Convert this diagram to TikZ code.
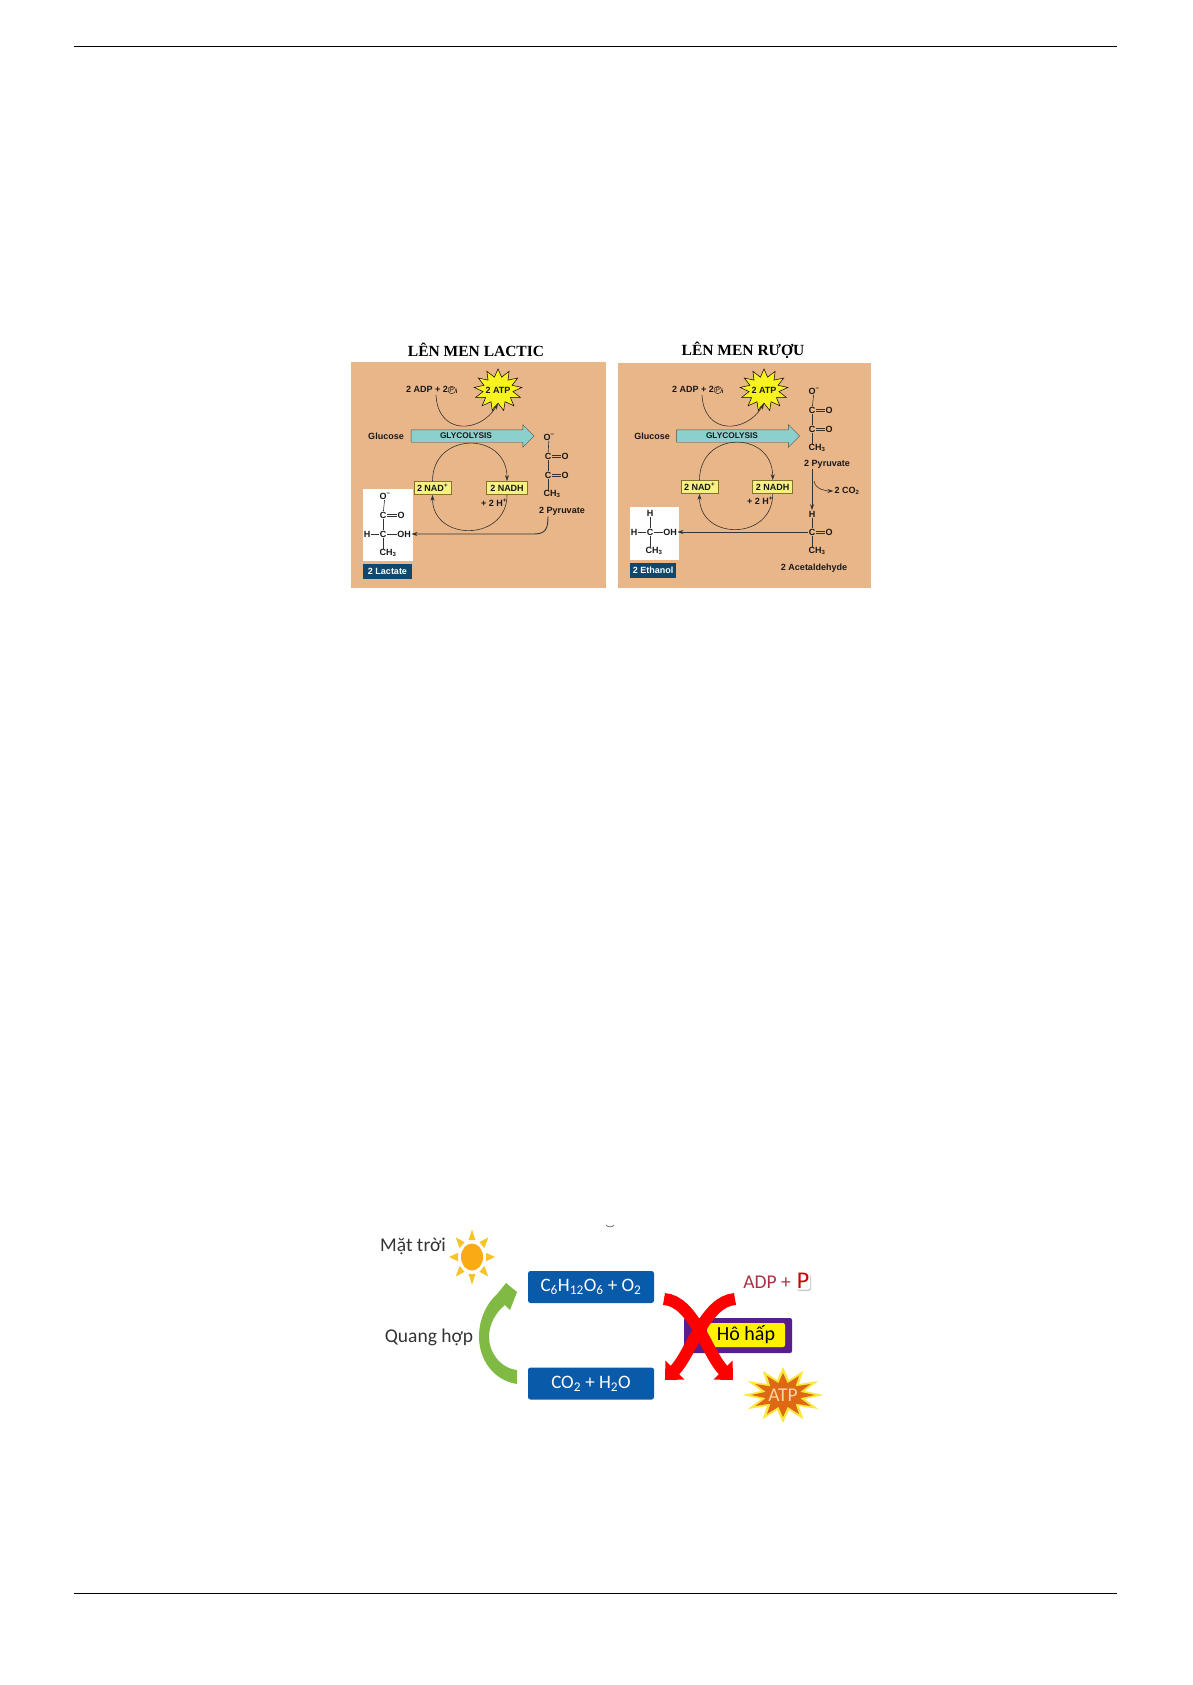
\documentclass[tikz,border=0pt]{standalone}
\usepackage{fontspec}
\setmainfont{Liberation Sans}
\newfontfamily\titlefont{Liberation Serif}
\newfontfamily\slidefont{Carlito}
\usepackage{tikz}
\usetikzlibrary{arrows.meta,shapes.geometric,shapes.arrows,shadows}
\definecolor{panelbg}{RGB}{233,182,137}
\definecolor{glyfill}{RGB}{140,208,205}
\definecolor{boxyellow}{RGB}{247,240,130}
\definecolor{boxedge}{RGB}{130,115,40}
\definecolor{starfill}{RGB}{248,242,30}
\definecolor{namebg}{RGB}{15,72,108}
\definecolor{slideblue}{RGB}{10,90,170}
\definecolor{leafgreen}{RGB}{128,186,68}
\definecolor{sunorange}{RGB}{249,170,20}
\definecolor{sunyellow}{RGB}{246,196,40}
\definecolor{breathpurple}{RGB}{88,30,140}
\definecolor{adpred}{RGB}{170,50,70}
\definecolor{burstorange}{RGB}{222,104,20}
\definecolor{burstyellow}{RGB}{250,230,60}
\definecolor{bursttext}{RGB}{248,214,170}
\newcommand{\pcirc}{\tikz[baseline=(pc.base)]\node[circle,draw,line width=.4pt,inner sep=.3pt,font=\fontsize{7}{7}\selectfont\mdseries] (pc) {P};}
\newcommand{\dblbond}[2]{\draw[bond] ([yshift=-1pt]#1.east) -- ([yshift=-1pt]#2.west); \draw[bond] ([yshift=1pt]#1.east) -- ([yshift=1pt]#2.west);}
\tikzset{
	small/.style={font=\fontsize{9}{10}\selectfont\bfseries,inner sep=1pt,text=black!90},
	atom/.style={small,inner sep=.5pt},
	bond/.style={black!80,line width=.6pt},
	arc/.style={black!80,line width=.6pt,-{Stealth[length=6pt,width=4pt]}},
	panel/.style={fill=panelbg,draw=none},
	whitebox/.style={fill=white,draw=none},
	redox/.style={small,fill=boxyellow,draw=boxedge,line width=.8pt,minimum height=13pt,inner sep=0pt},
	namebox/.style={small,fill=namebg,text=white,minimum height=15pt,inner sep=0pt},
	glyarrow/.style={single arrow,draw=black!70,fill=glyfill,minimum height=123pt,single arrow head extend=5pt,single arrow tip angle=90,inner sep=6pt},
	burst/.style={star,star points=13,star point ratio=1.6,draw=black,fill=starfill,line width=.5pt,minimum size=48pt,inner sep=0pt,yscale=.88,transform shape},
	heading/.style={font=\fontsize{15.5}{17}\selectfont\titlefont\bfseries,inner sep=0pt},
	slidetxt/.style={font=\fontsize{19.5}{22}\selectfont\slidefont,inner sep=0pt,text=black!80},
	slidebox/.style={font=\fontsize{19}{22}\selectfont\slidefont,fill=slideblue,text=white,rounded corners=2.5pt,minimum width=126pt,minimum height=32pt,inner sep=0pt},
	redarrow/.style={red,line width=12pt,-{Triangle[length=14pt,width=26pt]}},
}
\begin{document}
\begin{tikzpicture}[x=1pt,y=-1pt]
	\useasboundingbox (0,0) rectangle (1192,1685);
	\coordinate (topL) at (74,46);
	\coordinate (topR) at (1117,46);
	\coordinate (botL) at (74,1593);
	\coordinate (botR) at (1117,1593);
	\draw[line width=.8pt] (topL) -- (topR);
	\draw[line width=.8pt] (botL) -- (botR);

	\node[heading] (titleA) at (476,350) {LÊN MEN LACTIC};
	\node[heading] (titleB) at (743,350) {LÊN MEN RƯỢU};
	\fill[panel] (351,362) rectangle (606,588);
	\fill[panel] (618,363) rectangle (871,588);

	\node[small] (adpA) at (432,390) {2 ADP + 2\pcirc\textsubscript{i}};
	\node[burst] (starA) at (498,390) {};
	\node[small] (atpA) at (498,390) {2 ATP};
	\node[small] (glucA) at (386,436) {Glucose};
	\node[glyarrow] (glyA) at (469.5,436) {};
	\node[small,font=\fontsize{8.3}{10}\selectfont\bfseries] (glytxtA) at (466,436) {GLYCOLYSIS};
	\node[redox,minimum width=37pt] (nadA) at (432.5,488) {2 NAD\textsuperscript{+}};
	\node[redox,minimum width=41pt] (nadhA) at (507,488) {2 NADH};
	\node[small] (hplusA) at (494,503) {+ 2 H\textsuperscript{+}};
	\draw[arc] ([xshift=4pt]adpA.south) .. controls +(2,40) and +(-18,30) .. (starA.south);
	\draw[arc] (nadA.north) .. controls +(0,-50) and +(0,-50) .. (nadhA.north);
	\draw[arc] (nadhA.south) .. controls +(0,47) and +(0,47) .. (nadA.south);

	\node[atom] (oa) at (549,437) {O\textsuperscript{−}};
	\node[atom] (ca) at (548,456) {C};
	\node[atom] (oea) at (565,456) {O};
	\node[atom] (cb) at (548,475) {C};
	\node[atom] (oeb) at (565,475) {O};
	\node[atom] (mea) at (552,494) {CH\textsubscript{3}};
	\node[small] (pyrA) at (562,511) {2 Pyruvate};
	\draw[bond] (oa) -- (ca);
	\draw[bond] (ca) -- (cb);
	\draw[bond] (cb) -- (cb |- mea.north);
	\dblbond{ca}{oea}
	\dblbond{cb}{oeb}

	\fill[whitebox] (363,489) rectangle (413,561);
	\node[namebox,minimum width=49pt] (lact) at (387.5,571.5) {2 Lactate};
	\node[atom] (ob) at (385,496) {O\textsuperscript{−}};
	\node[atom] (cc) at (383,515) {C};
	\node[atom] (oec) at (401,515) {O};
	\node[atom] (ha) at (367,534) {H};
	\node[atom] (cd) at (383,534) {C};
	\node[atom] (oh) at (404,534) {OH};
	\node[atom] (meb) at (388,553) {CH\textsubscript{3}};
	\draw[bond] (ob) -- (cc);
	\draw[bond] (cc) -- (cd);
	\draw[bond] (cd) -- (cd |- meb.north);
	\draw[bond] (ha) -- (cd);
	\draw[bond] (cd) -- (oh);
	\dblbond{cc}{oec}
	\coordinate (bendA) at (534,534);
	\draw[arc,line width=.9pt] (pyrA.south -| cb) .. controls +(0,12) and +(12,0) .. (bendA) -- (oh.east);

	\node[small] (adpB) at (698,390) {2 ADP + 2\pcirc\textsubscript{i}};
	\node[burst] (starB) at (764,390) {};
	\node[small] (atpB) at (764,390) {2 ATP};
	\node[small] (glucB) at (652,436) {Glucose};
	\node[glyarrow] (glyB) at (735,436) {};
	\node[small,font=\fontsize{8.3}{10}\selectfont\bfseries] (glytxtB) at (732,436) {GLYCOLYSIS};
	\node[redox,minimum width=37pt] (nadB) at (699.5,487) {2 NAD\textsuperscript{+}};
	\node[redox,minimum width=40pt] (nadhB) at (772.7,487) {2 NADH};
	\node[small] (hplusB) at (760,501) {+ 2 H\textsuperscript{+}};
	\draw[arc] ([xshift=4pt]adpB.south) .. controls +(2,40) and +(-18,30) .. (starB.south);
	\draw[arc] (nadB.north) .. controls +(0,-50) and +(0,-50) .. (nadhB.north);
	\draw[arc] (nadhB.south) .. controls +(0,47) and +(0,47) .. (nadB.south);

	\node[atom] (oc) at (814,391) {O\textsuperscript{−}};
	\node[atom] (ce) at (812,410) {C};
	\node[atom] (oed) at (829,410) {O};
	\node[atom] (cf) at (812,429) {C};
	\node[atom] (oee) at (829,429) {O};
	\node[atom] (mec) at (817,448) {CH\textsubscript{3}};
	\node[small] (pyrB) at (827,464) {2 Pyruvate};
	\draw[bond] (oc) -- (ce);
	\draw[bond] (ce) -- (cf);
	\draw[bond] (cf) -- (cf |- mec.north);
	\dblbond{ce}{oed}
	\dblbond{cf}{oee}

	\node[atom] (hb) at (812,514) {H};
	\node[atom] (cg) at (812,532) {C};
	\node[atom] (oef) at (829,532) {O};
	\node[atom] (med) at (817,551) {CH\textsubscript{3}};
	\node[small] (acet) at (814,568) {2 Acetaldehyde};
	\node[small] (cotwo) at (847,491) {2 CO\textsubscript{2}};
	\draw[bond] (hb) -- (cg);
	\draw[bond] (cg) -- (cg |- med.north);
	\dblbond{cg}{oef}
	\coordinate (branch) at (814,481);
	\draw[arc,line width=.8pt] (hb |- pyrB.south) -- (hb.north);
	\draw[arc] (branch) .. controls +(1,8) and +(-8,0) .. (cotwo.west);

	\fill[whitebox] (630,507) rectangle (679,560);
	\node[namebox,minimum width=46pt] (etha) at (653,570) {2 Ethanol};
	\node[atom] (hc) at (650,513) {H};
	\node[atom] (hd) at (634,532) {H};
	\node[atom] (ch) at (650,532) {C};
	\node[atom] (ohb) at (670,532) {OH};
	\node[atom] (mee) at (654,551) {CH\textsubscript{3}};
	\draw[bond] (hc) -- (ch);
	\draw[bond] (ch) -- (ch |- mee.north);
	\draw[bond] (hd) -- (ch);
	\draw[bond] (ch) -- (ohb);
	\draw[arc,line width=.8pt] (cg.west) -- (ohb.east);

	\node[slidetxt] (mat) at (413,1246) {Mặt trời};
	\node[ellipse,fill=sunorange,minimum width=22pt,minimum height=27pt,inner sep=0pt] (sun) at (472,1257) {};
	\foreach \ang in {0,45,...,315}
		\fill[sunyellow,shift={(sun)},yscale=1.2,rotate=\ang] (14,-3.5) -- (23,0) -- (14,3.5) -- cycle;
	\coordinate (markL) at (606,1225);
	\coordinate (markR) at (614,1225);
	\draw[black!60,line width=.7pt] (markL) .. controls +(2,2.5) and +(-2,2.5) .. (markR);

	\node[slidebox] (sugar) at (591,1287) {C\textsubscript{6}H\textsubscript{12}O\textsubscript{6} + O\textsubscript{2}};
	\node[slidebox] (water) at (591,1383.5) {CO\textsubscript{2} + H\textsubscript{2}O};
	\node[slidetxt] (qh) at (429,1337) {Quang hợp};
	\fill[leafgreen] (517,1384) .. controls (492,1380) and (479,1358) .. (479,1337) .. controls (479,1318) and (487,1303) .. (498,1293) -- (506,1283) -- (517,1292) -- (510,1310) -- (505,1305) .. controls (495,1313) and (489,1325) .. (489,1337) .. controls (489,1352) and (500,1368) .. (517,1370) -- cycle;

	\node[fill=breathpurple,rounded corners=2pt,minimum width=108pt,minimum height=35pt,inner sep=0pt] (hhbox) at (738,1335.5) {};
	\node[slidetxt,fill=yellow,rounded corners=2pt,minimum width=78pt,minimum height=24pt,text=black,font=\fontsize{20}{22}\selectfont\slidefont] (hh) at (746,1335) {Hô hấp};
	\coordinate (redA) at (664,1299);
	\coordinate (redB) at (735,1299);
	\coordinate (redC) at (733,1380);
	\coordinate (redD) at (665,1380);
	\draw[redarrow] (redA) .. controls +(30,2) and +(-26,-26) .. (redC);
	\draw[redarrow] (redB) .. controls +(-30,2) and +(26,-26) .. (redD);

	\node[slidetxt,text=adpred] (adp) at (767,1282) {ADP +};
	\node[slidetxt,text=red!80!black,fill=white,rounded corners=3pt,drop shadow={shadow xshift=1pt,shadow yshift=-1.5pt,opacity=.4},inner sep=1pt,font=\fontsize{24}{24}\selectfont\slidefont] (pi) at (803,1281) {P};
	\node[star,star points=12,star point ratio=1.8,fill=burstyellow,minimum size=56pt,inner sep=0pt,xscale=1.45,transform shape] (burstout) at (783,1395) {};
	\node[star,star points=12,star point ratio=1.8,fill=burstorange,minimum size=44pt,inner sep=0pt,xscale=1.45,transform shape] (burstin) at (783,1395) {};
	\node[slidetxt,text=bursttext] (atp) at (burstin) {ATP};
\end{tikzpicture}
\end{document}
